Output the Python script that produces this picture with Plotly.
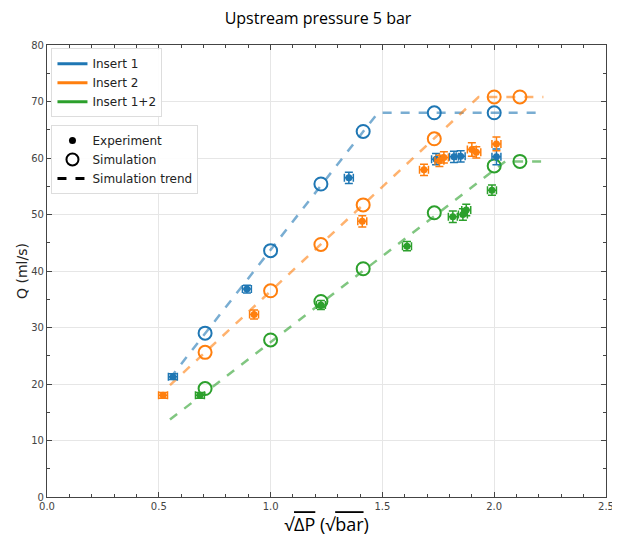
import plotly.graph_objects as go

# ---- data ----
series_names = ["Insert 1", "Insert 2", "Insert 1+2"]
colors = ["#1f77b4", "#ff7f0e", "#2ca02c"]
trend_colors = ["rgba(31,119,180,0.6)", "rgba(255,127,14,0.6)", "rgba(44,160,44,0.6)"]

sim_x_1 = [0.707, 1.0, 1.225, 1.414, 1.732, 2.0]
sim_y_1 = [29.0, 43.6, 55.4, 64.7, 68.0, 68.0]
sim_x_2 = [0.707, 1.0, 1.225, 1.414, 1.732, 2.0, 2.115]
sim_y_2 = [25.6, 36.5, 44.7, 51.7, 63.4, 70.8, 70.8]
sim_x_3 = [0.707, 1.0, 1.225, 1.414, 1.732, 2.0, 2.115]
sim_y_3 = [19.2, 27.8, 34.6, 40.4, 50.3, 58.6, 59.4]

trend_x_1 = [0.55, 1.48, 2.22]
trend_y_1 = [21.0, 68.0, 68.0]
trend_x_2 = [0.55, 1.93, 2.22]
trend_y_2 = [19.8, 70.8, 70.8]
trend_x_3 = [0.55, 2.05, 2.22]
trend_y_3 = [13.7, 59.4, 59.4]

exp_x_1 = [0.563, 0.894, 1.35, 1.74, 1.82, 1.85, 2.01]
exp_y_1 = [21.3, 36.8, 56.5, 59.8, 60.2, 60.3, 60.2]
exp_ey_1 = [0.5, 0.7, 1.0, 1.0, 1.0, 1.0, 1.4]
exp_x_2 = [0.519, 0.926, 1.41, 1.686, 1.755, 1.775, 1.90, 1.92, 2.01]
exp_y_2 = [18.0, 32.3, 48.8, 57.9, 59.5, 60.1, 61.5, 61.0, 62.5]
exp_ey_2 = [0.5, 0.8, 1.0, 1.0, 1.0, 1.0, 1.2, 1.0, 1.2]
exp_x_3 = [0.684, 1.225, 1.61, 1.815, 1.86, 1.875, 1.99]
exp_y_3 = [18.0, 34.0, 44.4, 49.6, 50.0, 50.8, 54.3]
exp_ey_3 = [0.5, 0.8, 0.8, 1.0, 1.0, 1.0, 0.9]
exp_ex = 0.02

x_ticks = [0.0, 0.5, 1.0, 1.5, 2.0, 2.5]
y_ticks = [0, 10, 20, 30, 40, 50, 60, 70, 80]

sims = [(sim_x_1, sim_y_1), (sim_x_2, sim_y_2), (sim_x_3, sim_y_3)]
trends = [(trend_x_1, trend_y_1), (trend_x_2, trend_y_2), (trend_x_3, trend_y_3)]
exps = [(exp_x_1, exp_y_1, exp_ey_1), (exp_x_2, exp_y_2, exp_ey_2), (exp_x_3, exp_y_3, exp_ey_3)]

fig = go.Figure()

for i in range(3):
    tx, ty = trends[i]
    fig.add_trace(go.Scatter(x=tx, y=ty, mode="lines",
                             line=dict(color=trend_colors[i], width=2.5, dash="dash"),
                             showlegend=False, hoverinfo="skip"))
for i in range(3):
    sx, sy = sims[i]
    fig.add_trace(go.Scatter(x=sx, y=sy, mode="markers",
                             marker=dict(symbol="circle-open", size=13, color=colors[i],
                                         line=dict(width=2, color=colors[i])),
                             showlegend=False))
for i in range(3):
    ex, ey, eey = exps[i]
    fig.add_trace(go.Scatter(x=ex, y=ey, mode="markers",
                             marker=dict(symbol="circle", size=7, color=colors[i]),
                             error_y=dict(type="data", array=eey, color=colors[i], thickness=1.5, width=4),
                             error_x=dict(type="constant", value=exp_ex, color=colors[i], thickness=1.5, width=4),
                             showlegend=False))

# legend 1: series colours
for i in range(3):
    fig.add_trace(go.Scatter(x=[None], y=[None], mode="lines", name=series_names[i],
                             line=dict(color=colors[i], width=3), legend="legend"))
# legend 2: marker types
fig.add_trace(go.Scatter(x=[None], y=[None], mode="markers", name="Experiment",
                         marker=dict(symbol="circle", size=7, color="black"), legend="legend2"))
fig.add_trace(go.Scatter(x=[None], y=[None], mode="markers", name="Simulation",
                         marker=dict(symbol="circle-open", size=12, color="black", line=dict(width=2)),
                         legend="legend2"))
fig.add_trace(go.Scatter(x=[None], y=[None], mode="lines", name="Simulation trend",
                         line=dict(color="black", width=3, dash="dash"), legend="legend2"))

axis_common = dict(showline=True, linecolor="#444", linewidth=1.2, mirror="allticks",
                   ticks="inside", ticklen=5, tickcolor="#444",
                   showgrid=True, gridcolor="#e6e6e6", gridwidth=1, zeroline=False,
                   tickfont=dict(family="DejaVu Sans", size=10, color="#444"))

x_title = ("√<span style='text-decoration:overline'>ΔP</span> "
           "(√<span style='text-decoration:overline'>bar</span>)")

fig.update_layout(
    width=620, height=538,
    paper_bgcolor="white", plot_bgcolor="white",
    margin=dict(l=39, r=22, t=37, b=49, autoexpand=False),
    title=dict(text="Upstream pressure 5 bar", x=0.5, xanchor="center", y=0.981, yanchor="middle",
               font=dict(family="Open Sans", size=16, color="black")),
    xaxis=dict(range=[0, 2.5], tickvals=x_ticks, ticktext=[f"{v:.1f}" for v in x_ticks],
               minor=dict(ticks="inside", dtick=0.1, ticklen=3, tickcolor="#444", showgrid=False),
               title=dict(text=x_title, font=dict(family="Open Sans", size=18, color="black"), standoff=7),
               **axis_common),
    yaxis=dict(range=[0, 80], tickvals=y_ticks,
               minor=dict(ticks="inside", dtick=5, ticklen=3, tickcolor="#444", showgrid=False),
               title=dict(text="Q (ml/s)", font=dict(family="DejaVu Sans", size=14, color="#222"), standoff=0),
               **axis_common),
    legend=dict(x=0.008, y=0.993, xanchor="left", yanchor="top",
                bgcolor="rgba(255,255,255,0.9)", bordercolor="#ddd", borderwidth=1,
                font=dict(family="DejaVu Sans", size=12, color="#222"), tracegroupgap=0,
                itemwidth=30),
    legend2=dict(x=0.008, y=0.823, xanchor="left", yanchor="top",
                 bgcolor="rgba(255,255,255,0.9)", bordercolor="#ddd", borderwidth=1,
                 font=dict(family="DejaVu Sans", size=12, color="#222"), tracegroupgap=0,
                 itemwidth=30),
)

fig.write_html("out.html")
